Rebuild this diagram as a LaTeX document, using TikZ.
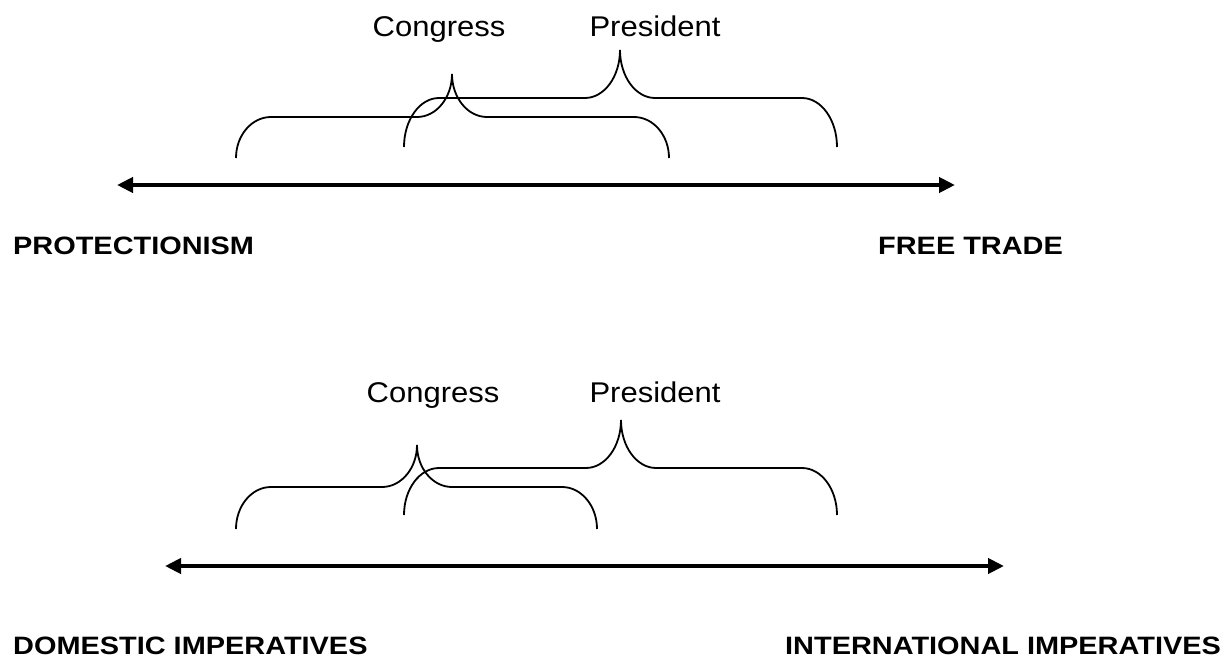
\documentclass[tikz,border=0pt]{standalone}
\usepackage{fontspec}
\usepackage{graphicx}
\setmainfont{Liberation Sans}
\usetikzlibrary{arrows.meta}
\newcommand{\squash}[2]{\scalebox{1}[#1]{#2}}
\newcommand{\spanbrace}[6]{% #1 left x, #2 tip x, #3 right x, #4 bottom y, #5 bar y, #6 tip y
  \draw[bracestyle] (#1,#4) .. controls (#1,{#4-(#4-#5)*0.552}) and ({#1+35*0.448},#5) .. ({#1+35},#5)
    -- ({#2-35},#5) .. controls ({#2-35*0.448},#5) and (#2,{#6+(#5-#6)*0.552}) .. (#2,#6)
    .. controls (#2,{#6+(#5-#6)*0.552}) and ({#2+35*0.448},#5) .. ({#2+35},#5)
    -- ({#3-35},#5) .. controls ({#3-35*0.448},#5) and (#3,{#5+(#4-#5)*0.448}) .. (#3,#4);}
\begin{document}
\begin{tikzpicture}[x=1pt,y=-1pt,
  bracestyle/.style={line width=1.8pt},
  axis/.style={line width=4.2pt,{Triangle[length=16pt,width=15pt]}-{Triangle[length=16pt,width=15pt]}},
  who/.style={font=\fontsize{31}{36}\selectfont,inner sep=0pt,anchor=base},
  pole/.style={font=\fontsize{28.9}{34}\selectfont\bfseries,inner sep=0pt,anchor=base west}]
\useasboundingbox (0,0) rectangle (1227,658);
% top diagram
\node[who] (c1) at (439,37) {\squash{0.92}{Congress}};
\node[who] (p1) at (655,37) {\squash{0.92}{President}};
\spanbrace{236}{452}{669}{158}{117}{74}
\spanbrace{404}{620}{837}{147}{98}{50}
\coordinate (l1) at (117,185);
\coordinate (r1) at (955,185);
\draw[axis] (l1) -- (r1);
\node[pole] (prot) at (13,254) {\squash{0.87}{PROTECTIONISM}};
\node[pole] (free) at (878,254) {\squash{0.87}{FREE TRADE}};
% bottom diagram
\node[who] (c2) at (433,402) {\squash{0.92}{Congress}};
\node[who] (p2) at (655,402) {\squash{0.92}{President}};
\spanbrace{236}{417}{597}{529}{487}{445}
\spanbrace{404}{621}{837}{515}{468}{420}
\coordinate (l2) at (165,566);
\coordinate (r2) at (1004,566);
\draw[axis] (l2) -- (r2);
\node[pole] (dom) at (13,654) {\squash{0.87}{DOMESTIC IMPERATIVES}};
\node[pole] (intl) at (785,654) {\squash{0.87}{INTERNATIONAL IMPERATIVES}};
\end{tikzpicture}
\end{document}
